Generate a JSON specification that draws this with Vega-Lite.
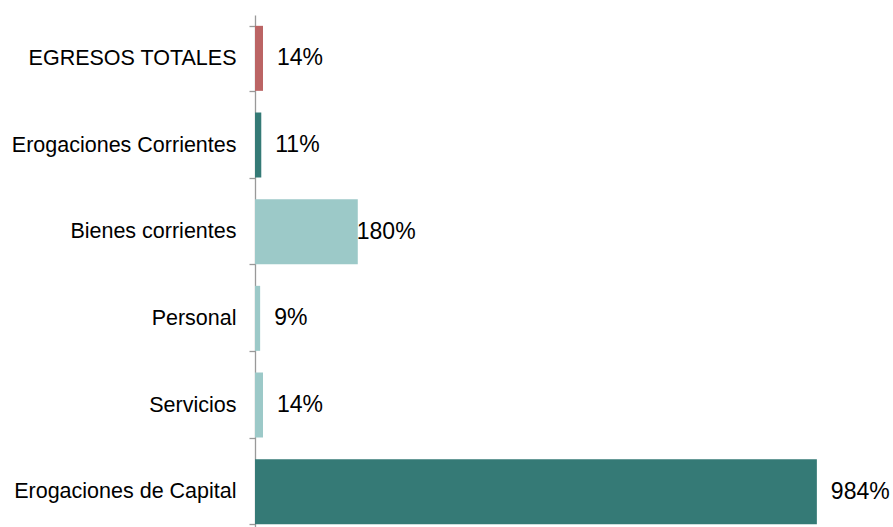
{
  "$schema": "https://vega.github.io/schema/vega-lite/v6.json",
  "autosize": {"type": "none"},
  "padding": {"left": 255, "top": 15, "right": 67, "bottom": 0},
  "width": 571,
  "height": 512,
  "background": "white",
  "config": {"view": {"stroke": null}, "font": "Liberation Sans"},
  "data": {"values": [
    {"rubro": "EGRESOS TOTALES", "var": 0.14, "tipo": "total"},
    {"rubro": "Erogaciones Corrientes", "var": 0.11, "tipo": "grupo"},
    {"rubro": "Bienes corrientes", "var": 1.80, "tipo": "detalle"},
    {"rubro": "Personal", "var": 0.09, "tipo": "detalle"},
    {"rubro": "Servicios", "var": 0.14, "tipo": "detalle"},
    {"rubro": "Erogaciones de Capital", "var": 9.84, "tipo": "grupo"}
  ]},
  "encoding": {
    "y": {
      "field": "rubro", "type": "nominal", "sort": null, "title": null,
      "scale": {"range": [0, 520], "paddingInner": 0.25, "paddingOuter": 0.125},
      "axis": {
        "tickBand": "extent", "domainColor": "#999999", "tickColor": "#999999",
        "domainWidth": 1.3, "tickWidth": 1.3,
        "tickSize": 6, "labelPadding": 13, "labelFontSize": 21.5, "labelColor": "#000000",
        "labelLimit": 0, "labelFont": "Liberation Sans"
      }
    },
    "x": {
      "field": "var", "type": "quantitative", "title": null,
      "scale": {"domain": [0, 10], "nice": false},
      "axis": null
    }
  },
  "layer": [
    {
      "mark": {"type": "bar"},
      "encoding": {
        "color": {
          "field": "tipo", "type": "nominal", "legend": null,
          "scale": {"domain": ["total", "grupo", "detalle"], "range": ["#bb6464", "#357a76", "#9cc9c8"]}
        }
      }
    },
    {
      "transform": [{"filter": "datum.rubro !== 'Bienes corrientes'"}],
      "mark": {"type": "text", "align": "left", "baseline": "middle", "dx": 14, "fontSize": 23, "color": "#000000", "font": "Liberation Sans"},
      "encoding": {"text": {"field": "var", "type": "quantitative", "format": ".0%"}}
    },
    {
      "transform": [{"filter": "datum.rubro === 'Bienes corrientes'"}],
      "mark": {"type": "text", "align": "left", "baseline": "middle", "dx": -1, "fontSize": 23, "color": "#000000", "font": "Liberation Sans"},
      "encoding": {"text": {"field": "var", "type": "quantitative", "format": ".0%"}}
    }
  ]
}
